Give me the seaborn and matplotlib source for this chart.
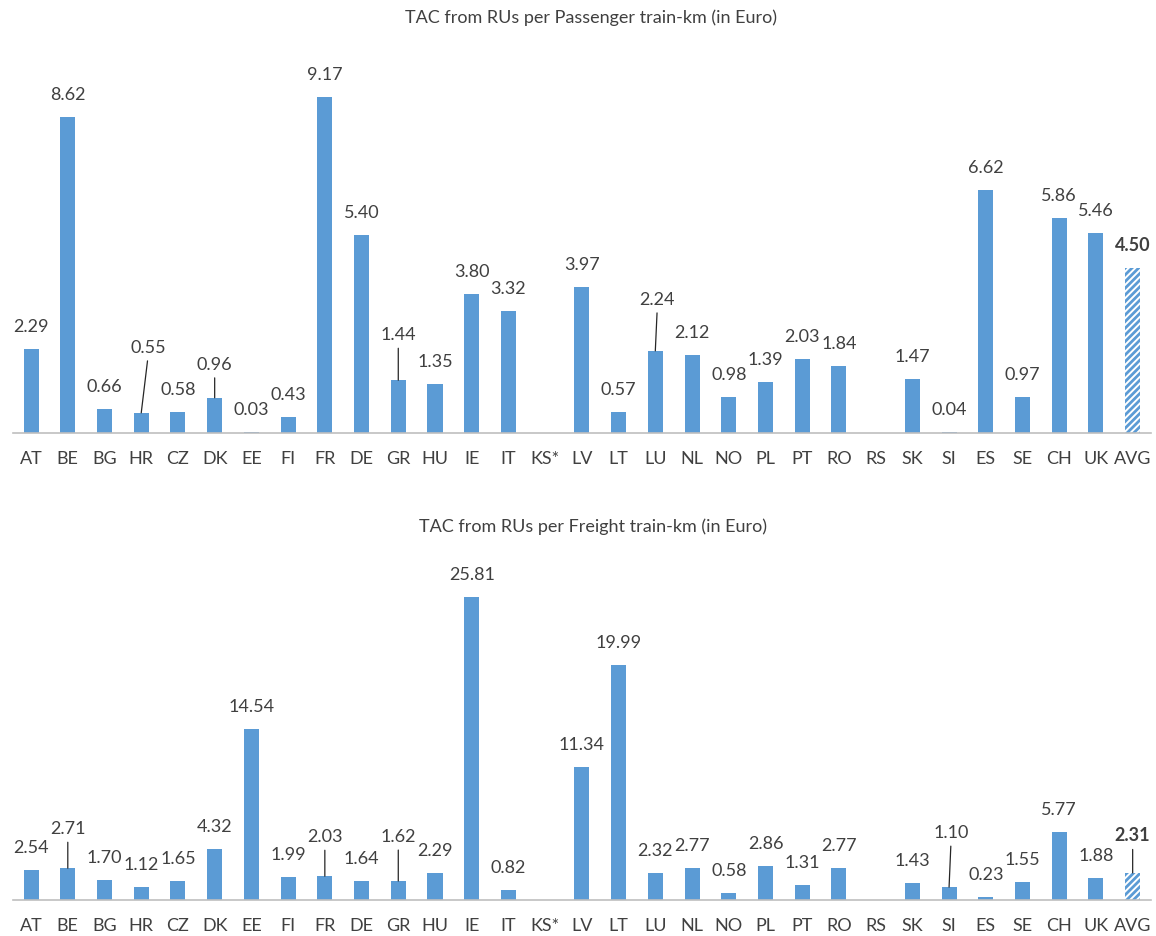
import numpy as np
import pandas as pd
import matplotlib
matplotlib.use('Agg')
import matplotlib.pyplot as plt
import seaborn as sns

# data
countries = ['AT', 'BE', 'BG', 'HR', 'CZ', 'DK', 'EE', 'FI', 'FR', 'DE', 'GR', 'HU', 'IE', 'IT', 'KS*',
             'LV', 'LT', 'LU', 'NL', 'NO', 'PL', 'PT', 'RO', 'RS', 'SK', 'SI', 'ES', 'SE', 'CH', 'UK', 'AVG']
passenger = [2.29, 8.62, 0.66, 0.55, 0.58, 0.96, 0.03, 0.43, 9.17, 5.40, 1.44, 1.35, 3.80, 3.32, np.nan,
             3.97, 0.57, 2.24, 2.12, 0.98, 1.39, 2.03, 1.84, np.nan, 1.47, 0.04, 6.62, 0.97, 5.86, 5.46, 4.50]
freight = [2.54, 2.71, 1.70, 1.12, 1.65, 4.32, 14.54, 1.99, 2.03, 1.64, 1.62, 2.29, 25.81, 0.82, np.nan,
           11.34, 19.99, 2.32, 2.77, 0.58, 2.86, 1.31, 2.77, np.nan, 1.43, 1.10, 0.23, 1.55, 5.77, 1.88, 2.31]

titles = ['TAC from RUs per Passenger train-km (in Euro)', 'TAC from RUs per Freight train-km (in Euro)']

# label offsets (pixels) for labels pulled away from their bar with a leader line
moved_top = {'HR': (7, 66), 'DK': (0, 34), 'GR': (0, 46), 'LU': (2, 52)}
moved_bottom = {'BE': (0, 40), 'FR': (0, 40), 'GR': (0, 45), 'SI': (2, 55), 'AVG': (0, 38)}

blue = '#5B9BD5'
grey = '#BFBFBF'
txt = '#404040'

sns.set_style('white')
plt.rcParams['font.family'] = ['Lato', 'DejaVu Sans']
plt.rcParams['hatch.linewidth'] = 2.0

fig = plt.figure(figsize=(11.56, 9.37), dpi=100)
ax1 = fig.add_axes([0.011, 0.5368, 0.9847, 0.411])
ax2 = fig.add_axes([0.011, 0.0384, 0.9847, 0.3508])


def draw(ax, values, ymax, moved):
    df = pd.DataFrame({'country': countries, 'value': values})
    sns.barplot(data=df, x='country', y='value', order=countries, color=blue,
                saturation=1, width=0.41, errorbar=None, ax=ax)
    for p in ax.patches:
        p.set_linewidth(0)
        xc = p.get_x() + p.get_width() / 2
        if int(round(xc)) == len(countries) - 1:
            p.set_facecolor('white')
            p.set_edgecolor(blue)
            p.set_hatch('/////')
    for i, (c, v) in enumerate(zip(countries, values)):
        if np.isnan(v):
            continue
        bold = 'bold' if c == 'AVG' else 'normal'
        if c in moved:
            dx, dy = moved[c]
            ax.annotate(f'{v:.2f}', xy=(i, v), xytext=(dx, dy), textcoords='offset pixels',
                        ha='center', va='center', fontsize=13, color=txt, fontweight=bold,
                        arrowprops=dict(arrowstyle='-', color='#262626', lw=0.9,
                                        shrinkA=2, shrinkB=0, relpos=(0.5, 0)))
        else:
            ax.annotate(f'{v:.2f}', xy=(i, v), xytext=(0, 23), textcoords='offset pixels',
                        ha='center', va='center', fontsize=13, color=txt, fontweight=bold)
    ax.set_xlim(-0.5, len(countries) - 0.5)
    ax.set_ylim(0, ymax)
    ax.set_xlabel('')
    ax.set_ylabel('')
    ax.set_yticks([])
    for s in ['top', 'right', 'left']:
        ax.spines[s].set_visible(False)
    ax.spines['bottom'].set_color(grey)
    ax.spines['bottom'].set_linewidth(1.2)
    ax.set_xticks(np.arange(-0.5, len(countries)), minor=True)
    ax.tick_params(axis='x', which='minor', length=6, width=1.2, color=grey, direction='out')
    ax.tick_params(axis='x', which='major', length=0, pad=12, labelsize=13, labelcolor=txt)


draw(ax1, passenger, 10.5, moved_top)
draw(ax2, freight, 28, moved_bottom)

fig.text(0.511, 0.981, titles[0], ha='center', va='center', fontsize=13, color=txt)
fig.text(0.513, 0.4376, titles[1], ha='center', va='center', fontsize=13, color=txt)

fig.savefig('out.png', dpi=100)
